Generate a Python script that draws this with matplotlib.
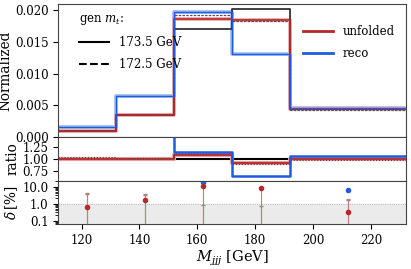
import matplotlib
matplotlib.use("Agg")
import matplotlib.pyplot as plt
import numpy as np

plt.rcParams["font.family"] = ["DejaVu Serif"]
plt.rcParams["mathtext.fontset"] = "dejavuserif"
plt.rcParams["font.size"] = 8.5

# bin edges and centres in M_jjj [GeV]
edges = [112, 132, 152, 172, 192, 232]
centres = [122, 142, 162, 182, 212]

# normalized distributions
gen_1735 = [0.00088, 0.00345, 0.0170, 0.0202, 0.0043]
gen_1725 = [0.00092, 0.00355, 0.0192, 0.0183, 0.0042]
unfolded = [0.00088, 0.00345, 0.01865, 0.0184, 0.0043]
reco = [0.00145, 0.0065, 0.0197, 0.0131, 0.0046]

# relative deviations [%]
delta_unf = [0.64, 1.58, 11.0, 8.4, 0.33]
delta_unf_up = [3.3, 2.0, 0.0, 0.0, 1.45]
delta_reco = [np.nan, np.nan, 17.8, np.nan, 6.3]
delta_stat = [3.6, 3.3, 0.85, 0.73, 1.7]

RED = "#b5282b"
BLUE = "#1f5be0"


def step(ax, vals, **kw):
    v = np.append(vals, vals[-1])
    return ax.step(edges, v, where="post", **kw)


fig = plt.figure(figsize=(4.11, 2.69), dpi=100)
left, right = 0.142, 0.987
ax_main = fig.add_axes([left, 0.492, right - left, 0.985 - 0.492])
ax_rat = fig.add_axes([left, 0.328, right - left, 0.492 - 0.328], sharex=ax_main)
ax_del = fig.add_axes([left, 0.166, right - left, 0.328 - 0.166], sharex=ax_main)

# main panel
step(ax_main, reco, color="#9ab8f0", lw=2.6)
step(ax_main, unfolded, color="#e8a0a0", lw=2.6)
l_gen, = step(ax_main, gen_1735, color="#333333", lw=1.3)
l_gen2, = step(ax_main, gen_1725, color="#555555", lw=0.9, ls=(0, (2, 1)))
l_unf, = step(ax_main, unfolded, color=RED, lw=1.2)
l_reco, = step(ax_main, reco, color=BLUE, lw=1.0)
ax_main.set_ylim(0, 0.021)
ax_main.set_yticks([0, 0.005, 0.010, 0.015, 0.020])
ax_main.set_yticklabels(["0.000", "0.005", "0.010", "0.015", "0.020"])
ax_main.set_ylabel("Normalized", fontsize=9.8, labelpad=1.5)
ax_main.tick_params(labelbottom=False)

h_solid, = ax_main.plot([], [], color="black", lw=1.5)
h_dash, = ax_main.plot([], [], color="black", lw=1.5, ls="--")
leg1 = ax_main.legend([h_solid, h_dash], ["173.5 GeV", "172.5 GeV"],
                      title=r"gen $m_t$:", loc="upper left", frameon=False,
                      fontsize=8.5, title_fontsize=8.5, handlelength=2.6,
                      labelspacing=0.75, borderpad=0.2,
                      bbox_to_anchor=(0.035, 1.0))
leg1._legend_box.align = "left"
ax_main.add_artist(leg1)
leg2 = ax_main.legend([l_unf, l_reco], ["unfolded", "reco"], loc="upper right",
                      frameon=False, fontsize=8.5, handlelength=2.6,
                      labelspacing=0.75, bbox_to_anchor=(1.0, 0.92))
for h in leg2.get_lines():
    h.set_linewidth(2)

# ratio panel
gen = np.array(gen_1735)
ax_rat.axhline(1.0, color="black", lw=1.5)
step(ax_rat, np.array(unfolded) / gen, color="#e8a0a0", lw=3)
step(ax_rat, np.array(unfolded) / gen, color=RED, lw=1.3)
step(ax_rat, np.array(gen_1725) / gen, color="#444444", lw=0.8, ls=":")
step(ax_rat, np.array(reco) / gen, color=BLUE, lw=1.8)
ax_rat.set_ylim(0.54, 1.48)
ax_rat.set_yticks([0.75, 1.0, 1.25])
ax_rat.set_yticklabels(["0.75", "1.00", "1.25"])
ax_rat.set_ylabel("ratio", fontsize=9.8, labelpad=2)
ax_rat.tick_params(labelbottom=False)

# delta panel
ax_del.set_yscale("log")
ax_del.axhspan(0.01, 1.0, color="#ebebeb", zorder=0)
ax_del.axhline(1.0, color="#aaaaaa", lw=0.6, ls=":")
ax_del.errorbar(centres, np.zeros(5), yerr=[np.zeros(5), delta_stat],
                fmt="none", ecolor="#888888", elinewidth=0.8, capsize=1.5)
ax_del.errorbar(centres, delta_unf, yerr=[delta_unf, delta_unf_up],
                fmt="o", color=RED, ms=3, ecolor="#c08080",
                elinewidth=0.8, capsize=1.5)
ax_del.plot(centres, delta_reco, "o", color=BLUE, ms=3)
ax_del.set_ylim(0.06, 22)
ax_del.set_yticks([0.1, 1.0, 10.0])
ax_del.set_yticklabels(["0.1", "1.0", "10.0"])
ax_del.set_ylabel(r"$\delta\,[\%]$", fontsize=9.8, labelpad=2)
ax_del.set_xlim(112, 232)
ax_del.set_xticks([120, 140, 160, 180, 200, 220])
ax_del.set_xlabel(r"$M_{jjj}$ [GeV]", fontsize=10.5, labelpad=1)

for ax in (ax_main, ax_rat, ax_del):
    for s in ax.spines.values():
        s.set_color("#444444")

fig.savefig("out.png", dpi=100)
